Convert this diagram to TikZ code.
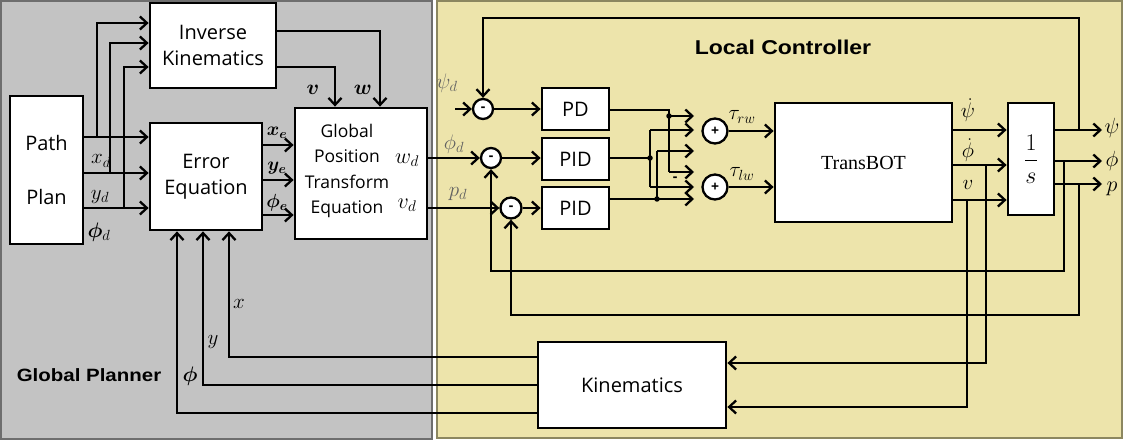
\RequirePackage{fix-cm}
\documentclass[tikz,border=0pt]{standalone}
\usepackage{amsmath}
\usepackage{bm}
\usepackage{fontspec}
\setmainfont{Liberation Serif}
\newfontfamily\boxfont{Open Sans}
\newfontfamily\titlefont[FakeStretch=1.15]{Liberation Sans}
\usetikzlibrary{arrows.meta}
\definecolor{panelgray}{HTML}{C3C3C3}
\definecolor{panelyellow}{HTML}{EDE4AB}
\definecolor{graybord}{HTML}{6E6E6E}
\definecolor{yelbord}{HTML}{8C8760}
\tikzset{
  >={Straight Barb[length=7pt,width=13pt]},
  box/.style={draw=black, line width=2.8pt, fill=white, inner sep=0pt, align=center,
    font=\boxfont\fontsize{20}{26}\selectfont},
  sumc/.style={circle, draw=black, line width=2.3pt, fill=white, minimum size=20pt, inner sep=0pt,
    font=\boxfont\bfseries\fontsize{14}{14}\selectfont},
  wire/.style={line width=2.3pt},
  lbl/.style={inner sep=0pt, font=\fontsize{21}{23}\selectfont},
  glbl/.style={lbl, text=black!62},
  jdot/.style={circle, fill=black, inner sep=0pt, minimum size=5.5pt},
  ttl/.style={inner sep=0pt, font=\titlefont\bfseries\fontsize{17.8}{20}\selectfont},
}
\begin{document}
\begin{tikzpicture}[x=1pt,y=-1pt]
\useasboundingbox (0,0) rectangle (1128,443);
\fill[white] (0,0) rectangle (1128,443);
% panels
\draw[fill=panelgray, draw=graybord, line width=1.5pt] (1,1) rectangle (432,439);
\draw[fill=panelyellow, draw=yelbord, line width=1.5pt] (437,1) rectangle (1122,438);
\node[ttl] (gpl) at (89,375) {Global Planner};
\node[ttl, font=\titlefont\bfseries\fontsize{20}{22}\selectfont] (lcl) at (783,47) {Local Controller};

% blocks
\node[box, minimum width=73pt, minimum height=148pt, font=\boxfont\fontsize{20}{54}\selectfont] (pp) at (46.5,170) {Path\\Plan};
\node[box, minimum width=126pt, minimum height=85pt] (ik) at (213,45.5) {Inverse\\Kinematics};
\node[box, minimum width=112pt, minimum height=107pt] (err) at (206,176.5) {Error\\Equation};
\node[box, minimum width=132pt, minimum height=131pt] (gp) at (361,173.5) {};
\node[inner sep=0pt, align=center, font=\boxfont\fontsize{17.5}{25.5}\selectfont] (gpt) at (347,171) {Global\\Position\\Transform\\Equation};
\node[box, minimum width=67pt, minimum height=42pt] (pd) at (575.5,109) {PD};
\node[box, minimum width=67pt, minimum height=42pt] (pid1) at (575.5,159) {PID};
\node[box, minimum width=67pt, minimum height=42pt] (pid2) at (575.5,208) {PID};
\node[box, minimum width=177pt, minimum height=119pt, font=\rmfamily\fontsize{20}{24}\selectfont] (tb) at (863.5,162.5) {TransBOT};
\node[box, minimum width=46pt, minimum height=112pt, font=\fontsize{24}{26}\selectfont] (intg) at (1031,159) {$\dfrac{1\rule[-4pt]{0pt}{4pt}}{\rule{0pt}{16pt}s}$};
\node[box, minimum width=188pt, minimum height=86pt] (kin) at (632,385) {Kinematics};

% summing junctions
\node[sumc, minimum size=20pt] (s1) at (483,109) {-};
\node[sumc, minimum size=20pt] (s2) at (491,158) {-};
\node[sumc, minimum size=21pt] (s3) at (511,208) {-};
\node[sumc, minimum size=25pt] (sa) at (715,131) {+};
\node[sumc, minimum size=25pt] (sb) at (715,187) {+};

% path plan -> error equation and inverse kinematics
\coordinate (r1) at (0,137); \coordinate (r2) at (0,173); \coordinate (r3) at (0,208);
\coordinate (b1) at (97,137); \coordinate (b2) at (110,173); \coordinate (b3) at (124,208);
\coordinate (i1) at (0,23); \coordinate (i2) at (0,43); \coordinate (i3) at (0,67);
\draw[wire,->] (pp.east |- r1) -- (err.west |- r1);
\draw[wire,->] (pp.east |- r2) -- (err.west |- r2);
\draw[wire,->] (pp.east |- r3) -- (err.west |- r3);
\draw[wire,->] (b1) |- (ik.west |- i1);
\draw[wire,->] (b2) |- (ik.west |- i2);
\draw[wire,->] (b3) |- (ik.west |- i3);
\node[lbl] (lxd) at (101,161) {$x_d$};
\node[lbl] (lyd) at (100,197) {$y_d$};
\node[lbl] (lpd) at (99,232) {$\bm{\phi}_{d}$};

% error -> gpte
\coordinate (e1) at (0,145); \coordinate (e2) at (0,180); \coordinate (e3) at (0,215);
\draw[wire,->] (err.east |- e1) -- (gp.west |- e1);
\draw[wire,->] (err.east |- e2) -- (gp.west |- e2);
\draw[wire,->] (err.east |- e3) -- (gp.west |- e3);
\node[lbl, font=\fontsize{19}{21}\selectfont] (lxe) at (277,133) {$\bm{x}_{\bm{e}}$};
\node[lbl, font=\fontsize{19}{21}\selectfont] (lye) at (277,168) {$\bm{y}_{\bm{e}}$};
\node[lbl, font=\fontsize{19}{21}\selectfont] (lfe) at (277,203) {$\bm{\phi}_{\bm{e}}$};

% inverse kinematics -> gpte
\coordinate (k1) at (380,31); \coordinate (k2) at (335,67);
\draw[wire,->] (ik.east |- k1) -- (k1) -- (gp.north -| k1);
\draw[wire,->] (ik.east |- k2) -- (k2) -- (gp.north -| k2);
\node[lbl] (lv) at (313,90) {$\bm{v}$};
\node[lbl] (lw) at (363,90) {$\bm{w}$};
\node[lbl, font=\fontsize{22}{24}\selectfont] (lwd) at (407,160) {$w_d$};
\node[lbl, font=\fontsize{22}{24}\selectfont] (lvd) at (407,205) {$v_d$};

% gpte -> local controller
\draw[wire,->] (gp.east |- s2) -- (s2.west);
\draw[wire,->] (gp.east |- s3) -- (s3.west);
\coordinate (psin) at (455,109);
\draw[wire,->] (psin) -- (s1.west);
\node[glbl] (lpsid) at (447,83) {$\psi_d$};
\node[glbl] (lphid) at (454,144) {$\phi_d$};
\node[glbl] (lpdd) at (458,194) {$p_d$};

\draw[wire,->] (s1.east) -- (pd.west |- s1.east);
\draw[wire,->] (s2.east) -- (pid1.west |- s2.east);
\draw[wire,->] (s3.east) -- (pid2.west |- s3.east);

% controller outputs to the summing junctions
\coordinate (pdc) at (669,110); \coordinate (pdj) at (669,116); \coordinate (pdb) at (669,172);
\coordinate (ta1) at (694,116); \coordinate (tb1) at (694,172);
\draw[wire] (pd.east |- pdc) -- (pdc) -- (pdb);
\draw[wire,->] (pdj) -- (ta1);
\draw[wire,->] (pdb) -- (tb1);
\coordinate (p1j) at (650,158); \coordinate (p1t) at (650,130); \coordinate (p1b) at (650,187);
\coordinate (ta2) at (694,130); \coordinate (tb2) at (694,187);
\draw[wire] (pid1.east |- p1j) -- (p1j);
\draw[wire] (p1t) -- (p1b);
\draw[wire,->] (p1t) -- (ta2);
\draw[wire,->] (p1b) -- (tb2);
\coordinate (p2j) at (657,199); \coordinate (p2t) at (657,151);
\coordinate (tc1) at (694,151); \coordinate (tc2) at (694,199);
\draw[wire,->] (pid2.east |- p2j) -- (tc2);
\draw[wire] (p2j) -- (p2t);
\draw[wire,->] (p2t) -- (tc1);
\node[jdot] (d1) at (pdj) {};
\node[jdot] (d2) at (p1j) {};
\node[jdot] (d3) at (p2j) {};
\node[lbl, font=\boxfont\bfseries\fontsize{14}{14}\selectfont] (minus) at (675,179) {-};

% torques -> TransBOT
\draw[wire,->] (sa.east) -- (tb.west |- sa.east);
\draw[wire,->] (sb.east) -- (tb.west |- sb.east);
\node[lbl] (ltr) at (742,117) {$\tau_{rw}$};
\node[lbl] (ltl) at (742,174) {$\tau_{lw}$};

% TransBOT -> integrator
\coordinate (o1) at (0,130); \coordinate (o2) at (0,165); \coordinate (o3) at (0,200);
\draw[wire,->] (tb.east |- o1) -- (intg.west |- o1);
\draw[wire,->] (tb.east |- o2) -- (intg.west |- o2);
\draw[wire,->] (tb.east |- o3) -- (intg.west |- o3);
\node[lbl] (lpsidot) at (968,110) {$\dot{\psi}$};
\node[lbl] (lphidot) at (968,150) {$\dot{\phi}$};
\node[lbl] (lvv) at (968,185) {$v$};

% TransBOT -> kinematics
\coordinate (v1) at (986,165); \coordinate (v1b) at (986,363);
\coordinate (v2) at (967,200); \coordinate (v2b) at (967,407);
\draw[wire,->] (v1) -- (v1b) -- (kin.east |- v1b);
\draw[wire,->] (v2) -- (v2b) -- (kin.east |- v2b);

% integrator outputs
\coordinate (q1) at (1102,130); \coordinate (q2) at (1102,161); \coordinate (q3) at (1102,184);
\draw[wire,->] (intg.east |- q1) -- (q1);
\draw[wire,->] (intg.east |- q2) -- (q2);
\draw[wire,->] (intg.east |- q3) -- (q3);
\node[lbl, font=\fontsize{22}{24}\selectfont] (lpsi) at (1112,128) {$\psi$};
\node[lbl, font=\fontsize{22}{24}\selectfont] (lphi) at (1112,161) {$\phi$};
\node[lbl, font=\fontsize{22}{24}\selectfont] (lp) at (1112,189) {$p$};

% feedback loops
\coordinate (fpsi) at (1079,130); \coordinate (ftop) at (1079,18);
\draw[wire,->] (fpsi) -- (ftop) -| (s1.north);
\coordinate (fphi) at (1064,161); \coordinate (fphib) at (1064,271);
\draw[wire,->] (fphi) -- (fphib) -| (s2.south);
\coordinate (fp) at (1079,184); \coordinate (fpb) at (1079,315);
\draw[wire,->] (fp) -- (fpb) -| (s3.south);

% kinematics -> error equation
\coordinate (g1) at (229,357); \coordinate (g2) at (203,385); \coordinate (g3) at (177,413);
\draw[wire,->] (kin.west |- g1) -- (g1) -- (err.south -| g1);
\draw[wire,->] (kin.west |- g2) -- (g2) -- (err.south -| g2);
\draw[wire,->] (kin.west |- g3) -- (g3) -- (err.south -| g3);
\node[lbl] (lx) at (239,304) {$x$};
\node[lbl] (ly) at (213,342) {$y$};
\node[lbl] (lf) at (190,376) {$\bm{\phi}$};
\end{tikzpicture}
\end{document}
